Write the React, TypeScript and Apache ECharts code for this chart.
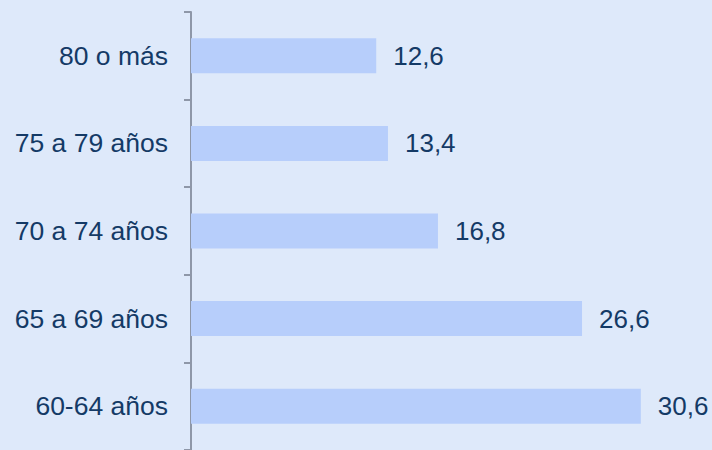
import React, { useEffect, useRef } from "react";
import * as echarts from "echarts";

const categories = ["60-64 años", "65 a 69 años", "70 a 74 años", "75 a 79 años", "80 o más"];
const values = [30.6, 26.6, 16.8, 13.4, 12.6];

export default function App() {
  const ref = useRef<HTMLDivElement>(null);
  useEffect(() => {
    const chart = echarts.init(ref.current!, undefined, { renderer: "svg" });
    chart.setOption({
      animation: false,
      backgroundColor: "#dee9fa",
      textStyle: { fontFamily: "Liberation Sans, Arial, sans-serif" },
      grid: { left: 191, right: 6.5, top: 12, bottom: 0, containLabel: false },
      xAxis: {
        type: "value",
        min: 0,
        max: 35,
        show: false,
      },
      yAxis: {
        type: "category",
        data: categories,
        axisLine: { show: true, lineStyle: { color: "#8e97a8", width: 2 } },
        axisTick: { show: true, length: 7, lineStyle: { color: "#8e97a8", width: 2 } },
        axisLabel: {
          margin: 23,
          fontSize: 26.5,
          color: "#143a66",
          fontFamily: "Liberation Sans, Arial, sans-serif",
        },
        splitLine: { show: false },
      },
      series: [
        {
          type: "bar",
          data: values,
          barWidth: 35,
          itemStyle: { color: "#b7cefb" },
          label: {
            show: true,
            position: "right",
            distance: 17,
            fontSize: 26,
            color: "#143a66",
            fontFamily: "Liberation Sans, Arial, sans-serif",
            formatter: (p: any) => String(p.value).replace(".", ","),
          },
        },
      ],
    });
    return () => chart.dispose();
  }, []);
  return (
    <div
      ref={ref}
      style={{ position: "fixed", left: 0, top: 0, width: 712, height: 450 }}
    />
  );
}
